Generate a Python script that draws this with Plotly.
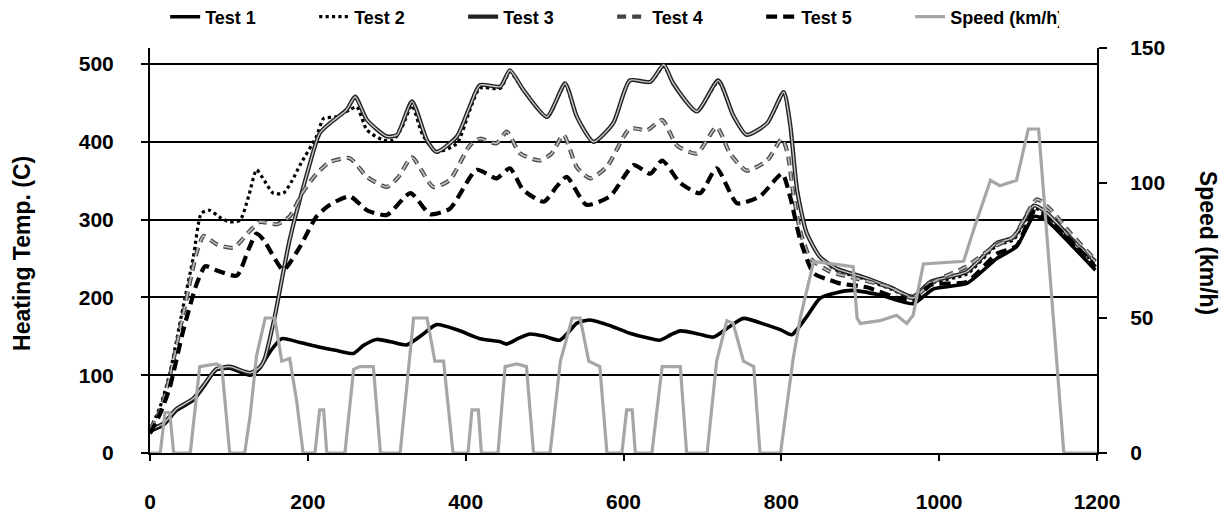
import plotly.graph_objects as go

# ---- data ----
t1_x = [0, 17, 34, 55, 68, 84, 101, 127, 139, 152, 167, 190, 211, 235, 258, 270, 287, 305, 325, 345, 363, 390, 418, 444, 452, 468, 482, 500, 519, 530, 541, 558, 585, 608, 630, 646, 660, 672, 695, 714, 735, 752, 780, 800, 813, 832, 849, 870, 890, 925, 967, 993, 1035, 1073, 1098, 1120, 1136, 1166, 1198]
t1_y = [28, 36, 55, 68, 85, 107, 109, 100, 109, 130, 147, 142, 137, 132, 128, 138, 146, 143, 139, 152, 165, 158, 147, 143, 140, 148, 153, 150, 145, 155, 167, 171, 163, 154, 148, 145, 152, 157, 153, 149, 163, 173, 165, 158, 152, 175, 199, 206, 209, 203, 192, 211, 218, 250, 265, 304, 299, 269, 235]

t2_x = [0, 13, 25, 42, 55, 65, 75, 90, 101, 114, 125, 135, 145, 156, 169, 180, 190, 211, 220, 235, 253, 262, 275, 296, 308, 320, 332, 345, 363, 389, 405, 418, 444, 456, 473, 503, 526, 541, 562, 587, 608, 634, 651, 663, 693, 720, 739, 756, 782, 803, 811, 820, 832, 849, 870, 904, 938, 967, 989, 1035, 1073, 1094, 1120, 1136, 1166, 1198]
t2_y = [30, 60, 102, 188, 252, 308, 312, 302, 297, 299, 330, 364, 350, 334, 334, 350, 370, 407, 430, 432, 441, 445, 415, 402, 402, 420, 447, 410, 387, 398, 440, 469, 469, 490, 467, 432, 473, 432, 400, 424, 479, 477, 497, 475, 439, 477, 434, 409, 424, 462, 424, 338, 283, 252, 235, 224, 211, 199, 218, 230, 267, 274, 315, 306, 274, 243]

t3_x = [0, 17, 34, 55, 68, 84, 101, 127, 139, 145, 158, 177, 199, 215, 228, 249, 260, 275, 300, 313, 332, 351, 363, 389, 405, 418, 444, 456, 473, 503, 526, 541, 562, 587, 608, 634, 651, 663, 693, 720, 739, 756, 782, 803, 811, 820, 832, 849, 870, 904, 938, 967, 989, 1035, 1073, 1094, 1120, 1136, 1166, 1198]
t3_y = [30, 38, 57, 70, 87, 108, 111, 103, 110, 120, 175, 274, 359, 411, 424, 441, 458, 428, 407, 409, 452, 402, 387, 407, 445, 473, 471, 492, 467, 432, 475, 432, 400, 424, 479, 477, 499, 475, 439, 479, 434, 409, 424, 464, 424, 338, 283, 252, 237, 226, 213, 201, 220, 233, 270, 277, 318, 309, 277, 246]

t4_x = [0, 13, 25, 42, 59, 68, 85, 106, 127, 139, 161, 177, 194, 211, 228, 253, 275, 300, 315, 332, 359, 380, 405, 418, 439, 452, 469, 494, 509, 524, 541, 558, 579, 608, 630, 649, 668, 693, 718, 735, 756, 782, 801, 808, 815, 824, 837, 862, 896, 938, 967, 989, 1035, 1069, 1094, 1124, 1141, 1166, 1198]
t4_y = [30, 55, 98, 178, 257, 279, 268, 264, 286, 297, 294, 304, 336, 359, 374, 379, 355, 342, 355, 380, 342, 351, 395, 404, 398, 413, 385, 376, 385, 409, 367, 353, 368, 417, 415, 428, 395, 385, 419, 385, 363, 376, 404, 385, 335, 285, 250, 233, 224, 213, 199, 218, 240, 265, 278, 326, 313, 283, 248]

t5_x = [0, 13, 25, 42, 59, 70, 84, 110, 125, 135, 144, 158, 169, 190, 211, 228, 253, 275, 300, 330, 355, 380, 414, 439, 456, 473, 499, 515, 528, 553, 583, 613, 634, 649, 672, 697, 718, 744, 773, 801, 811, 824, 841, 862, 874, 908, 967, 989, 1035, 1073, 1098, 1120, 1136, 1166, 1198]
t5_y = [25, 51, 84, 157, 217, 240, 235, 228, 262, 282, 274, 250, 235, 265, 304, 319, 330, 312, 306, 334, 307, 314, 364, 353, 366, 338, 323, 342, 355, 319, 330, 370, 359, 376, 347, 334, 366, 321, 330, 359, 330, 274, 231, 222, 218, 213, 195, 216, 220, 256, 266, 310, 302, 274, 239]

sp_x = [0, 13, 19, 25, 30, 51, 63, 84, 91, 101, 120, 127, 135, 146, 158, 167, 177, 186, 194, 209, 215, 220, 224, 247, 258, 266, 283, 292, 317, 334, 351, 361, 372, 384, 403, 408, 416, 420, 441, 450, 465, 477, 486, 507, 520, 535, 545, 556, 570, 579, 598, 604, 611, 615, 636, 649, 659, 672, 680, 706, 718, 731, 739, 752, 765, 773, 799, 807, 815, 824, 841, 891, 896, 900, 925, 946, 959, 967, 980, 1031, 1044, 1065, 1077, 1098, 1113, 1126, 1158, 1200]
sp_y = [0, 0, 15, 15, 0, 0, 32, 33, 32, 0, 0, 14, 36, 50, 50, 34, 35, 19, 0, 0, 16, 16, 0, 0, 31, 32, 32, 0, 0, 50, 50, 34, 34, 0, 0, 16, 16, 0, 0, 32, 33, 32, 0, 0, 34, 50, 50, 34, 32, 0, 0, 16, 16, 0, 0, 32, 32, 32, 0, 0, 34, 49, 48, 34, 32, 0, 0, 17, 35, 50, 71, 69, 50, 48, 49, 51, 48, 51, 70, 71, 83, 101, 99, 101, 120, 120, 0, 0]

x_ticks = [0, 200, 400, 600, 800, 1000, 1200]
temp_ticks = [0, 100, 200, 300, 400, 500]
speed_ticks = [0, 50, 100, 150]

FONT = "Liberation Sans, Arial, sans-serif"
SM = 0.6

fig = go.Figure()

fig.add_trace(go.Scatter(x=t1_x, y=t1_y, name="Test 1", mode="lines",
                         line=dict(color="black", width=3.6, shape="spline", smoothing=SM),
                         legendrank=1))
fig.add_trace(go.Scatter(x=t2_x, y=t2_y, name="Test 2", mode="lines",
                         line=dict(color="black", width=3.2, dash="dot", shape="spline", smoothing=SM),
                         legendrank=2))
# Test 3: double line (dark outer + light inner)
fig.add_trace(go.Scatter(x=t3_x, y=t3_y, name="Test 3", mode="lines",
                         line=dict(color="#222222", width=4.2, shape="spline", smoothing=SM),
                         legendrank=3))
fig.add_trace(go.Scatter(x=t3_x, y=t3_y, name="Test 3", mode="lines", showlegend=False,
                         line=dict(color="#C8C8C8", width=1.4, shape="spline", smoothing=SM),
                         hoverinfo="skip"))
# Test 4: light dashes with dark outline
fig.add_trace(go.Scatter(x=t4_x, y=t4_y, name="Test 4", mode="lines",
                         line=dict(color="#444444", width=4.2, dash="9px,6px", shape="spline", smoothing=SM),
                         legendrank=4))
fig.add_trace(go.Scatter(x=t4_x, y=t4_y, name="Test 4", mode="lines", showlegend=False,
                         line=dict(color="#B8B8B8", width=1.8, dash="9px,6px", shape="spline", smoothing=SM),
                         hoverinfo="skip"))
fig.add_trace(go.Scatter(x=t5_x, y=t5_y, name="Test 5", mode="lines",
                         line=dict(color="black", width=4.2, dash="11px,6px", shape="spline", smoothing=SM),
                         legendrank=5))
# Speed on the secondary axis
fig.add_trace(go.Scatter(x=sp_x, y=sp_y, name="Speed (km/h)", mode="lines",
                         line=dict(color="#A6A6A6", width=3.2), yaxis="y2",
                         legendrank=6))

fig.update_layout(
    width=1228, height=515,
    margin=dict(l=150, r=131, t=48, b=62, autoexpand=False),
    paper_bgcolor="white", plot_bgcolor="white",
    font=dict(family=FONT, size=19, color="black", weight="bold"),
    showlegend=True,
    legend=dict(orientation="h", x=0.016, xanchor="left", y=0.967, yanchor="middle",
                yref="container", font=dict(size=18, family=FONT, weight="bold"),
                entrywidth=104, entrywidthmode="pixels", traceorder="normal",
                bgcolor="rgba(0,0,0,0)", itemwidth=30),
    xaxis=dict(range=[0, 1200], tickvals=x_ticks, showgrid=False, zeroline=False,
               showline=True, linecolor="black", linewidth=2,
               ticks="outside", ticklen=6, tickwidth=2, tickcolor="black",
               ticklabelstandoff=23, tickfont=dict(size=21, family=FONT, weight="bold")),
    yaxis=dict(range=[0, 520.6], tickvals=temp_ticks, showgrid=True, gridcolor="black",
               gridwidth=1.6, zeroline=False, showline=True, linecolor="black", linewidth=2,
               ticks="outside", ticklen=7, tickwidth=2, tickcolor="black",
               ticklabelstandoff=23, tickfont=dict(size=21, family=FONT, weight="bold")),
    yaxis2=dict(range=[0, 150], tickvals=speed_ticks, overlaying="y", side="right",
                showgrid=False, zeroline=False, showline=True, linecolor="black", linewidth=2,
                ticks="outside", ticklen=8, tickwidth=2, tickcolor="black",
                ticklabelstandoff=19, tickfont=dict(size=21, family=FONT, weight="bold")),
    annotations=[
        dict(text="Heating Temp. (C)", xref="paper", yref="paper", x=-0.1352, y=0.494,
             xanchor="center", yanchor="middle", textangle=-90, showarrow=False,
             font=dict(size=23, family=FONT, weight="bold")),
        dict(text="Speed (km/h)", xref="paper", yref="paper", x=1.1172, y=0.519,
             xanchor="center", yanchor="middle", textangle=90, showarrow=False,
             font=dict(size=23, family=FONT, weight="bold")),
    ],
)

fig.write_html("out.html")
